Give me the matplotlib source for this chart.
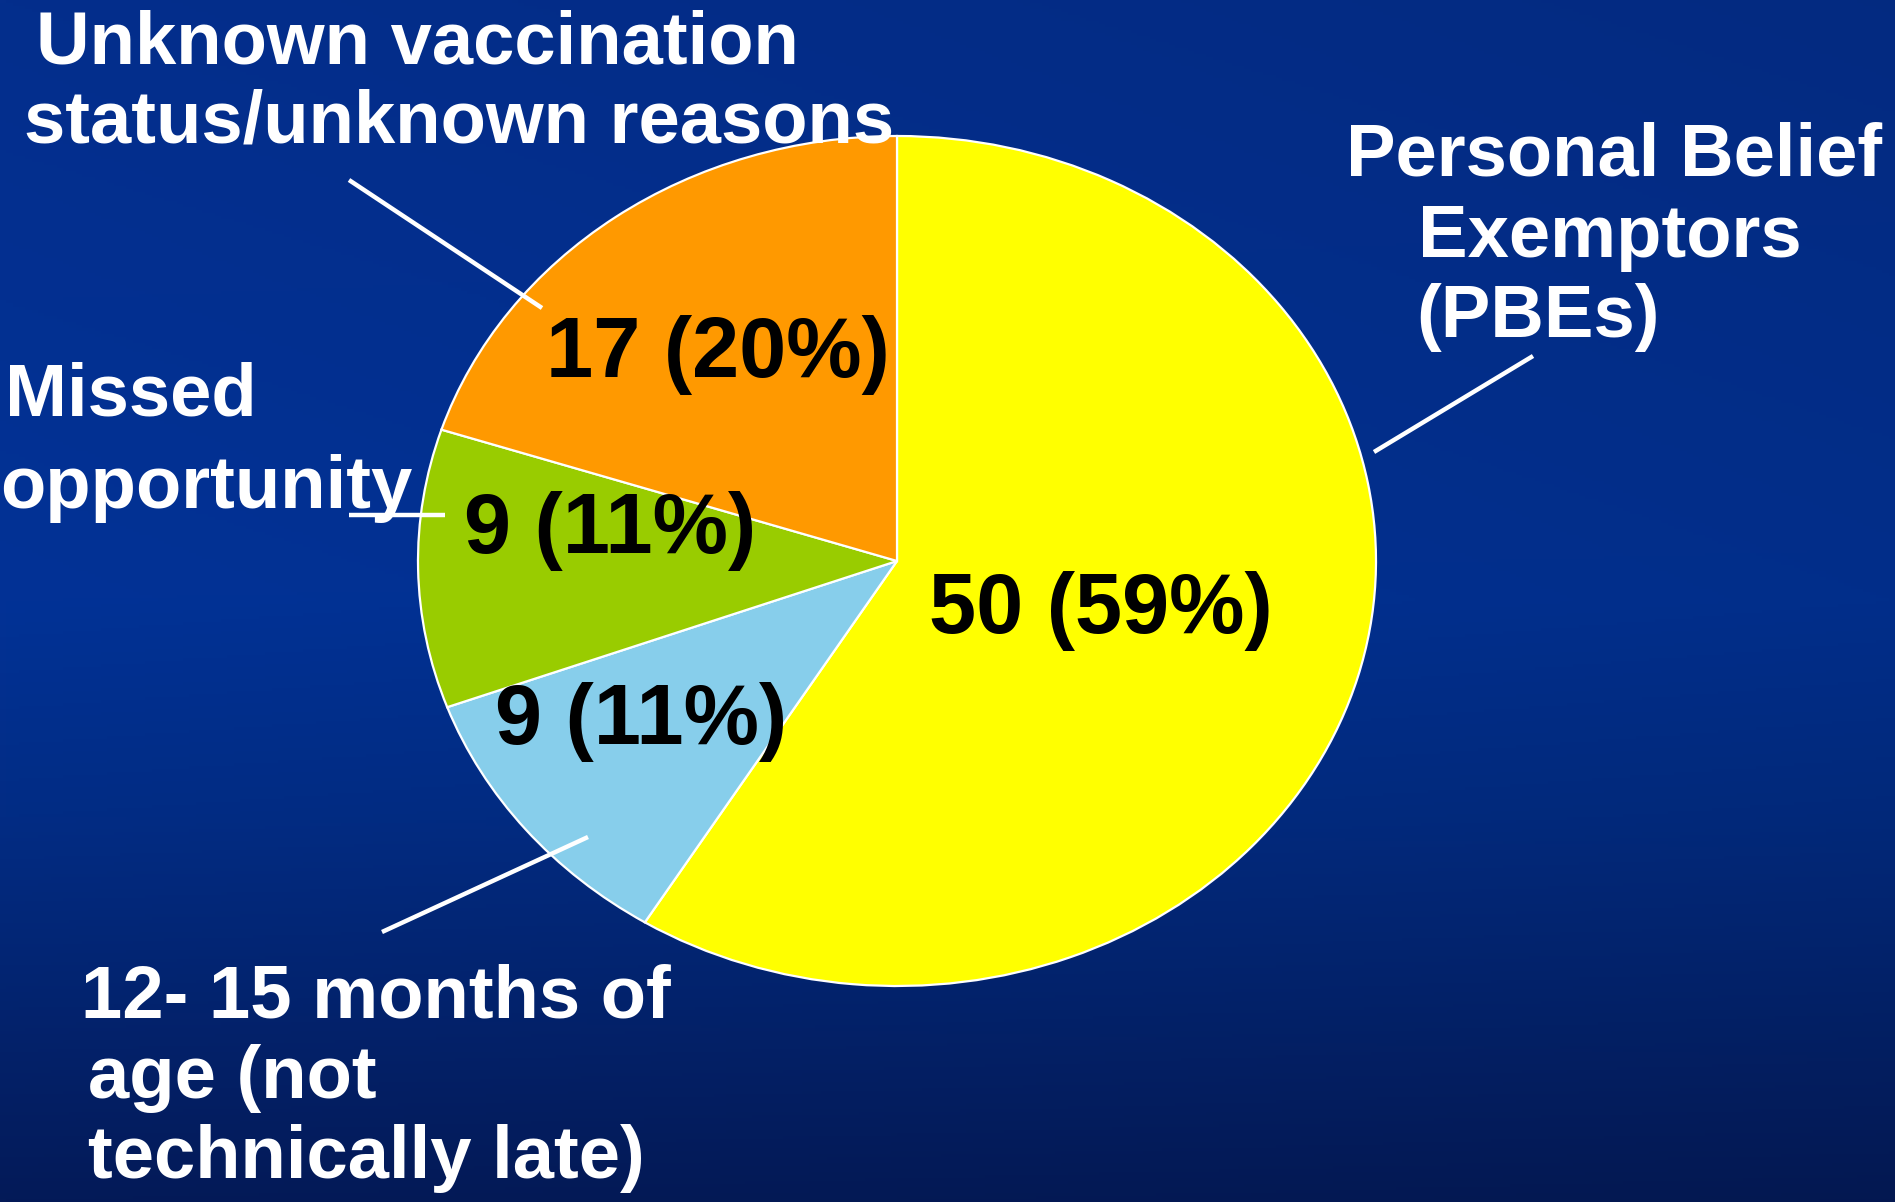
import matplotlib
matplotlib.use("Agg")
import matplotlib.pyplot as plt
import numpy as np

# data
categories = ["Personal Belief Exemptors (PBEs)",
              "12- 15 months of age (not technically late)",
              "Missed opportunity",
              "Unknown vaccination status/unknown reasons"]
counts = [50, 9, 9, 17]
colors = ["#FFFF00", "#87CEEB", "#99CC00", "#FF9900"]

# category text, one entry per line (text, x px, baseline y px)
label_lines = [
    [("Personal Belief", 1346, 175), ("Exemptors", 1418, 257), ("(PBEs)", 1416, 337)],
    [("12- 15 months of", 81, 1018), ("age (not", 88, 1098), ("technically late)", 88, 1178)],
    [("Missed", 5, 415), ("opportunity", 0, 508)],
    [("Unknown vaccination", 36, 63), ("status/unknown reasons", 24, 143)],
]
# leader lines (x0, y0, x1, y1) in px
leaders = [(1533, 356, 1374, 452),
           (588, 837, 382, 932),
           (349, 515, 445, 515),
           (349, 180, 542, 308)]
# value label left x / baseline y in px
value_pos = [(929, 633), (495, 744), (464, 553), (546, 377)]

W, H = 1895, 1202
fig = plt.figure(figsize=(W / 100, H / 100), dpi=100)

# background gradient
bg = fig.add_axes([0, 0, 1, 1], zorder=-10)
stops = np.array([0.0, 0.5, 0.68, 1.0])
top = np.array([[4, 46, 140], [2, 50, 150], [2, 44, 132], [4, 26, 88]]) / 255
yy = np.linspace(0, 1, 400)
grad = np.stack([np.interp(yy, stops, top[:, c]) for c in range(3)], axis=-1)
xx = np.linspace(0, 1, 300)
shade = 1 - 0.08 * xx
img = grad[:, None, :] * shade[None, :, None]
bg.imshow(img, aspect="auto", extent=[0, 1, 0, 1], origin="upper")
bg.axis("off")

# pie, stretched to an ellipse
cx, cy, rx, ry = 897, 561, 479, 425
ax = fig.add_axes([(cx - rx) / W, 1 - (cy + ry) / H, 2 * rx / W, 2 * ry / H])
ax.pie(counts, colors=colors, startangle=90, counterclock=False,
       wedgeprops=dict(edgecolor="white", linewidth=1.6))
ax.set_aspect("auto")
ax.set_xlim(-1, 1)
ax.set_ylim(-1, 1)
ax.axis("off")

total = sum(counts)
font = "Liberation Sans"
for v, (x, y) in zip(counts, value_pos):
    fig.text(x / W, 1 - y / H, f"{v} ({v / total:.0%})", fontsize=61,
             fontweight="bold", family=font, color="black", va="baseline")

for lines in label_lines:
    for t, x, y in lines:
        fig.text(x / W, 1 - y / H, t, fontsize=53.5, fontweight="bold",
                 family=font, color="white", va="baseline")

for x0, y0, x1, y1 in leaders:
    fig.add_artist(plt.Line2D([x0 / W, x1 / W], [1 - y0 / H, 1 - y1 / H],
                              color="white", linewidth=3.2, solid_capstyle="butt"))

fig.savefig("out.png", dpi=100)
